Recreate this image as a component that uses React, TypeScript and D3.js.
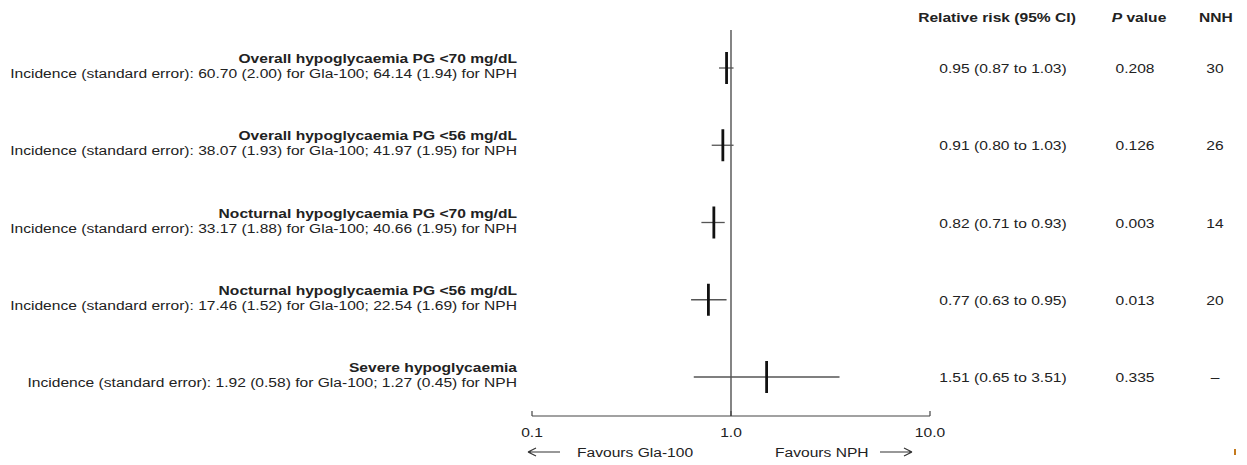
import { scaleLog, scalePoint } from 'd3';

const outcomes = [
  'Overall hypoglycaemia PG <70 mg/dL',
  'Overall hypoglycaemia PG <56 mg/dL',
  'Nocturnal hypoglycaemia PG <70 mg/dL',
  'Nocturnal hypoglycaemia PG <56 mg/dL',
  'Severe hypoglycaemia',
];
const incidence = [
  'Incidence (standard error): 60.70 (2.00) for Gla-100; 64.14 (1.94) for NPH',
  'Incidence (standard error): 38.07 (1.93) for Gla-100; 41.97 (1.95) for NPH',
  'Incidence (standard error): 33.17 (1.88) for Gla-100; 40.66 (1.95) for NPH',
  'Incidence (standard error): 17.46 (1.52) for Gla-100; 22.54 (1.69) for NPH',
  'Incidence (standard error): 1.92 (0.58) for Gla-100; 1.27 (0.45) for NPH',
];
const rr = [0.95, 0.91, 0.82, 0.77, 1.51];
const lower = [0.87, 0.8, 0.71, 0.63, 0.65];
const upper = [1.03, 1.03, 0.93, 0.95, 3.51];
const pValues = ['0.208', '0.126', '0.003', '0.013', '0.335'];
const nnh = ['30', '26', '14', '20', '–'];
const ticks = [0.1, 1, 10];
const tickLabels = ['0.1', '1.0', '10.0'];

const font = '"Liberation Sans", Arial, Helvetica, sans-serif';
const ink = '#222';
const stretch = 1.155; // text in the figure is set a bit wider than Arial

type TProps = {
  x: number;
  y: number;
  anchor?: 'start' | 'middle' | 'end';
  bold?: boolean;
  children: React.ReactNode;
};

// text with the figure's horizontal stretch
const T = ({ x, y, anchor = 'start', bold = false, children }: TProps) => (
  <text
    transform={`translate(${x},${y}) scale(${stretch},1)`}
    textAnchor={anchor}
    fontSize={13.5}
    fontWeight={bold ? 'bold' : 'normal'}
    fill={ink}
  >
    {children}
  </text>
);

const App = () => {
  const x = scaleLog().domain([0.1, 10]).range([532, 930]);
  const y = scalePoint<number>()
    .domain(rr.map((_, i) => i))
    .range([68, 377]);
  const axisY = 416;

  return (
    <svg
      width={1247}
      height={465}
      style={{ position: 'absolute', left: 0, top: 0, fontFamily: font }}
    >
      <rect width={1247} height={465} fill="#fff" />

      {/* column headers */}
      <T x={997} y={22} anchor="middle" bold>Relative risk (95% CI)</T>
      <T x={1139} y={22} anchor="middle" bold>
        <tspan fontStyle="italic">P</tspan> value
      </T>
      <T x={1216} y={22} anchor="middle" bold>NNH</T>

      {/* reference line at 1 */}
      <line x1={x(1)} x2={x(1)} y1={30} y2={axisY} stroke="#333" strokeWidth={1.2} />

      {/* rows */}
      {rr.map((v, i) => {
        const cy = y(i) as number;
        return (
          <g key={i}>
            <T x={517} y={cy - 5} anchor="end" bold>{outcomes[i]}</T>
            <T x={517} y={cy + 10} anchor="end">{incidence[i]}</T>
            <line x1={x(lower[i])} x2={x(upper[i])} y1={cy} y2={cy} stroke="#555" strokeWidth={1.3} />
            <line x1={x(v)} x2={x(v)} y1={cy - 16} y2={cy + 16} stroke="#111" strokeWidth={2.8} />
            <T x={1003} y={cy + 5} anchor="middle">
              {`${v.toFixed(2)} (${lower[i].toFixed(2)} to ${upper[i].toFixed(2)})`}
            </T>
            <T x={1135} y={cy + 5} anchor="middle">{pValues[i]}</T>
            <T x={1215} y={cy + 5} anchor="middle">{nnh[i]}</T>
          </g>
        );
      })}

      {/* x axis */}
      <line x1={x(0.1)} x2={x(10)} y1={axisY} y2={axisY} stroke="#444" strokeWidth={1.2} />
      {ticks.map((t, i) => (
        <g key={t}>
          <line x1={x(t)} x2={x(t)} y1={axisY} y2={axisY - 5} stroke="#444" strokeWidth={1.2} />
          <T x={x(t)} y={axisY + 21} anchor="middle">{tickLabels[i]}</T>
        </g>
      ))}

      {/* favours arrows */}
      <g stroke="#333" strokeWidth={1.2} fill="none">
        <path d="M528,452 H560 M528,452 l8,-4 M528,452 l8,4" />
        <path d="M880,452 H912 M912,452 l-8,-4 M912,452 l-8,4" />
      </g>
      <T x={577} y={457}>Favours Gla-100</T>
      <T x={775} y={457}>Favours NPH</T>

      <rect x={1234} y={449} width={2} height={6} fill="#c47a1e" />
    </svg>
  );
};

export default App;
